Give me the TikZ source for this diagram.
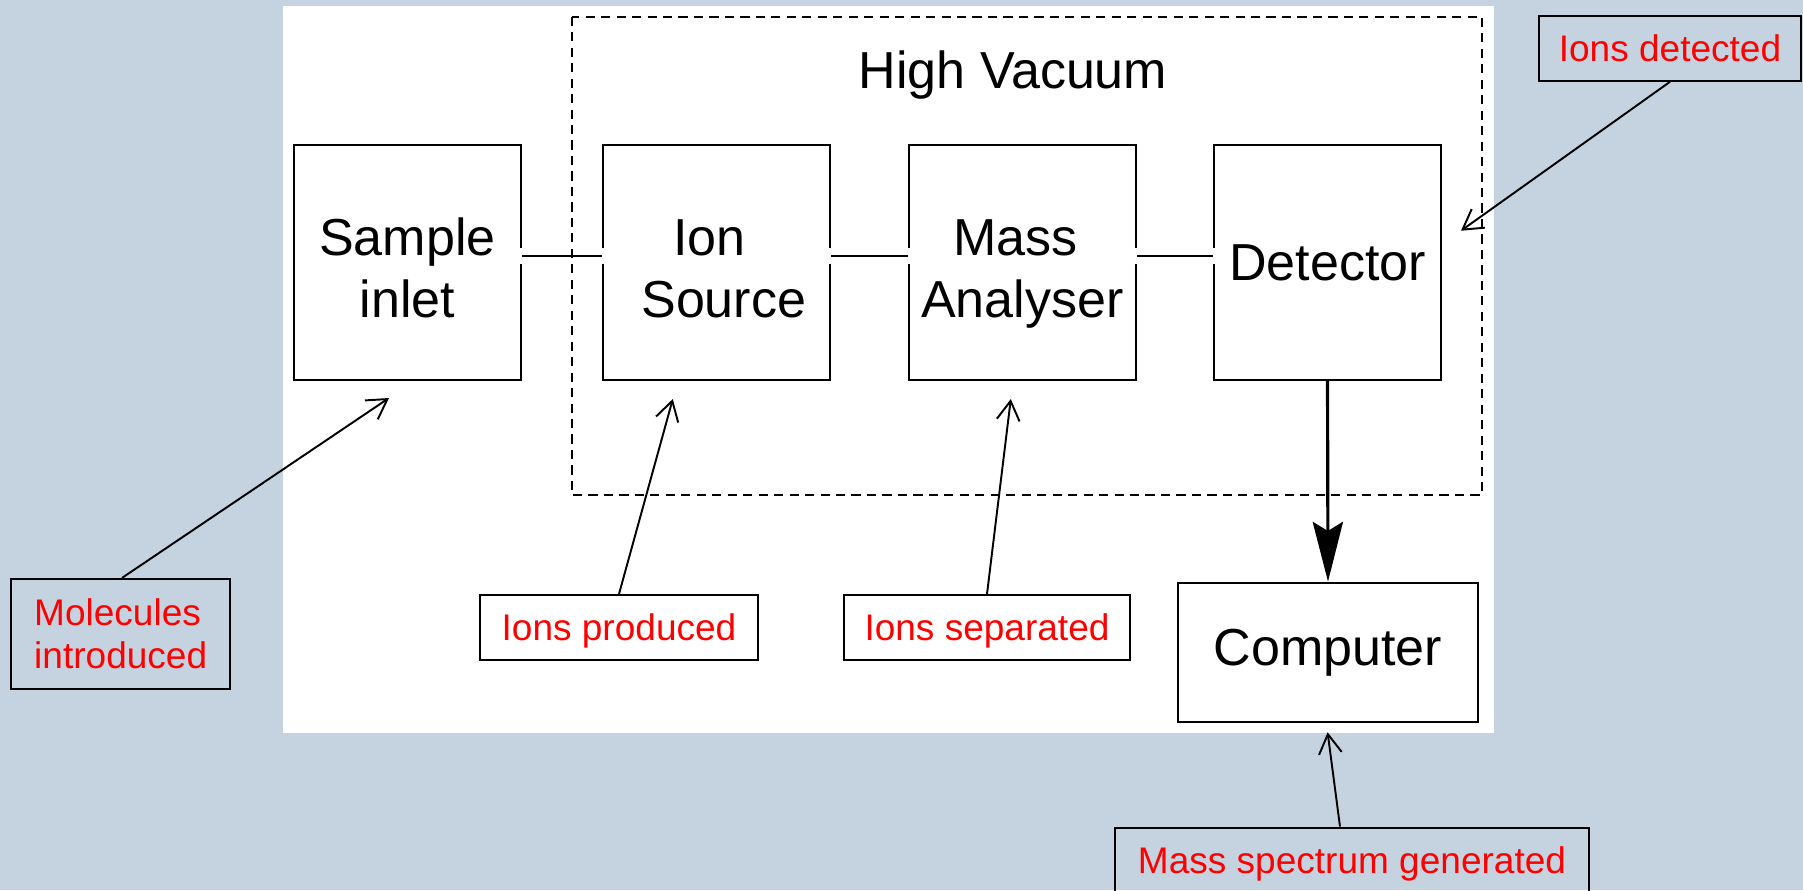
\documentclass[tikz,border=0pt]{standalone}
\usepackage{fontspec}
\setmainfont{Liberation Sans}
\usetikzlibrary{arrows.meta,calc}
\definecolor{bgblue}{RGB}{197,211,224}
\definecolor{lblred}{RGB}{255,0,0}
\newcommand{\toprule}{\rule{0pt}{13.4pt}}
\begin{document}
\begin{tikzpicture}[x=0.01cm,y=-0.01cm,
  stage/.style={draw=black, line width=0.6pt, fill=white, minimum width=2.27cm, minimum height=2.35cm, inner sep=0pt, align=center, font=\fontsize{14.8}{17.6}\selectfont},
  callout/.style={draw=black, line width=0.6pt, inner sep=0pt, text=lblred, font=\fontsize{10.53}{12.3}\selectfont},
  oneline/.style={text height=7.54pt, text depth=0pt, minimum height=0.65cm},
  pointer/.style={line width=0.55pt, -{Straight Barb[length=5.5pt,width=6.5pt]}},
  link/.style={line width=0.6pt, preaction={draw=white, line width=4.6pt, shorten <=-0.7pt, shorten >=-0.7pt}},
  flow/.style={line width=0.9pt, -{Stealth[length=17pt,width=8.6pt,inset=2.6pt]}},
  vacuum/.style={draw=black, line width=0.6pt, dash pattern=on 2.6pt off 1.8pt}
]
\path[clip] (0,0) rectangle (1803,890);
\fill[bgblue] (0,0) rectangle (1803,890);
\fill[white] (283,5.7) rectangle (1494,733);

% main stages
\node[stage] (sample) at (407.5,262.5) {\toprule Sample\\\smash{inlet}};
\node[stage] (ion) at (716.5,262.5) {\toprule Ion\kern0.278em\\\smash{\kern0.278em Source}};
\node[stage] (mass) at (1022.5,262.5) {\toprule Mass\kern0.278em\\\smash{Analyser}};
\node[stage] (detector) at (1327.5,262.5) {Detector};
\node[stage, minimum width=2.99cm, minimum height=1.396cm] (computer) at (1328,652.5) {Computer};

% links between stages
\draw[link] ($(sample.east)+(0,-6.5)$) -- ($(ion.west)+(0,-6.5)$);
\draw[link] ($(ion.east)+(0,-6.5)$) -- ($(mass.west)+(0,-6.5)$);
\draw[link] ($(mass.east)+(0,-6.5)$) -- ($(detector.west)+(0,-6.5)$);

% high vacuum region
\draw[vacuum] (571.6,16.7) rectangle (1482,495);
\node[anchor=base, inner sep=0pt, font=\fontsize{14.8}{17.6}\selectfont] (vac) at (1013,88) {High Vacuum};

% detector to computer
\draw[flow] (detector.south) -- (computer.north);

% callouts
\node[callout, align=left, minimum width=2.185cm, minimum height=1.10cm] (molecules) at (120.7,634) {Molecules\\introduced};
\node[callout, oneline, minimum width=2.773cm] (produced) at (619,627.5) {Ions produced};
\node[callout, oneline, minimum width=2.86cm] (separated) at (987,627.5) {Ions separated};
\node[callout, oneline, minimum width=2.62cm] (detected) at (1670,48.2) {Ions detected};
\node[callout, oneline, minimum width=4.737cm] (spectrum) at (1352,860.2) {Mass spectrum generated};

\coordinate (pSample) at (389,398);
\coordinate (pIon) at (672.8,399);
\coordinate (pMass) at (1010.8,399);
\coordinate (pDet) at (1461,230.7);
\coordinate (pComp) at (1327.6,732.3);

\draw[pointer] ($(molecules.north)+(1.3,0)$) -- (pSample);
\draw[pointer] (produced.north) -- (pIon);
\draw[pointer] (separated.north) -- (pMass);
\draw[pointer] (detected.south) -- (pDet);
\draw[pointer] ($(spectrum.north)+(-12,0)$) -- (pComp);
\end{tikzpicture}
\end{document}
